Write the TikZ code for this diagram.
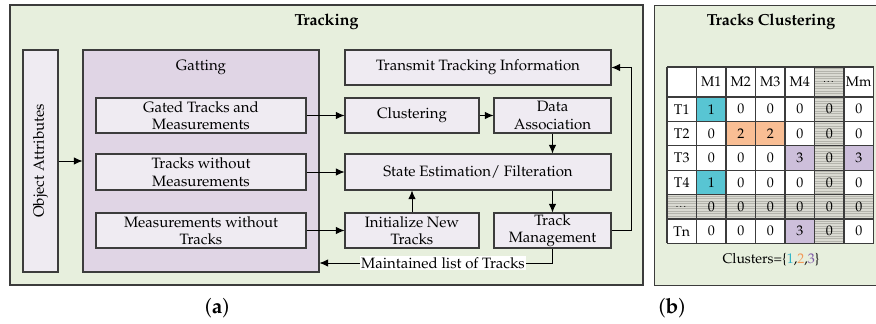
\documentclass[tikz,border=0pt]{standalone}
\usepackage[T1]{fontenc}
\usepackage{mathpazo}
\usetikzlibrary{arrows.meta,patterns}

\definecolor{panelbg}{HTML}{E7EFDD}
\definecolor{gatebg}{HTML}{E0D5E5}
\definecolor{boxbg}{HTML}{EFEBF2}
\definecolor{edge}{HTML}{3C3C3C}
\definecolor{cyanc}{HTML}{58C5D3}
\definecolor{orangec}{HTML}{F9BE94}
\definecolor{purplec}{HTML}{CDBFDB}
\definecolor{cyantxt}{HTML}{2FB3C6}
\definecolor{orangetxt}{HTML}{F29A5A}
\definecolor{purpletxt}{HTML}{7E58A8}
\definecolor{hatchbg}{HTML}{DADAD2}
\definecolor{hatchln}{HTML}{B4B4AC}

\tikzset{
  panel/.style={draw=edge, line width=1.2pt, fill=panelbg, inner sep=0pt},
  block/.style={draw=edge, line width=1.1pt, fill=boxbg, inner sep=1pt, align=center,
    font=\fontsize{15}{17.5}\selectfont},
  flow/.style={draw=black, line width=0.9pt, -{Latex[length=8.5pt,width=7.5pt]}},
  link/.style={draw=black, line width=0.9pt},
  cellt/.style={font=\fontsize{14}{16}\selectfont, inner sep=0pt},
  ttl/.style={font=\fontsize{16}{18}\selectfont\bfseries},
  captxt/.style={font=\fontsize{21}{24}\selectfont},
}
\newcommand{\elli}{{\fontsize{10}{12}\selectfont\dots}}

\begin{document}
\begin{tikzpicture}[x=1pt, y=-1pt]
\useasboundingbox (0,0) rectangle (876,324);

% ---------- left panel: tracking pipeline ----------
\node[panel, minimum width=633pt, minimum height=280pt] (trk) at (326.5,145) {};
\node[ttl] (trkttl) at (326.5,22) {Tracking};

\node[block, minimum width=35pt, minimum height=222pt] (obj) at (40.5,161) {};
\node[font=\fontsize{15}{17.5}\selectfont, rotate=90] (objtxt) at (obj.center)
  {Object Attributes};
\node[draw=edge, line width=1.1pt, fill=gatebg, minimum width=236pt, minimum height=222pt,
  inner sep=0pt] (gat) at (201,161) {};
\node[font=\fontsize{15}{17.5}\selectfont] (gatttl) at (201,67) {Gatting};

\node[block, minimum width=210pt, minimum height=35pt] (gated) at (201,115.5)
  {Gated Tracks and\\Measurements};
\node[block, minimum width=210pt, minimum height=36pt] (twm) at (201,172)
  {Tracks without\\Measurements};
\node[block, minimum width=210pt, minimum height=35pt] (mwt) at (201,230.5)
  {Measurements without\\Tracks};

\node[block, minimum width=266pt, minimum height=35pt] (tx) at (478,67.5)
  {Transmit Tracking Information};
\node[block, minimum width=134pt, minimum height=35pt] (clus) at (412,115.5)
  {Clustering};
\node[block, minimum width=117pt, minimum height=35pt] (da) at (552.5,115.5)
  {Data\\Association};
\node[block, minimum width=266pt, minimum height=36pt] (se) at (478,172)
  {State Estimation/ Filteration};
\node[block, minimum width=134pt, minimum height=35pt] (init) at (412,230.5)
  {Initialize New\\Tracks};
\node[block, minimum width=117pt, minimum height=35pt] (tm) at (552.5,230.5)
  {Track\\Management};

\node[fill=white, inner sep=1pt, font=\fontsize{15}{17.5}\selectfont] (maint) at (443,263)
  {Maintained list of Tracks};
\coordinate (fbk) at (631.5,0);

\draw[flow] (obj.east) -- (gat.west);
\draw[flow] (gated) -- (clus);
\draw[flow] (twm.east) -- (se.west |- twm.east);
\draw[flow] (mwt) -- (init);
\draw[flow] (clus) -- (da);
\draw[flow] (da) -- (da |- se.north);
\draw[flow] (se.south -| tm) -- (tm);
\draw[flow] (init) -- (init |- se.south);
\draw[flow] (tm.east) -- (fbk |- tm.east) -- (fbk |- tx.east) -- (tx.east);
\draw[link] (tm.south) -- (tm.south |- maint.east) -- (maint.east);
\draw[flow] (maint.west) -- (maint.west -| gat.east);

\node[captxt] (capa) at (217,308) {(\textbf{a})};

% ---------- right panel: cluster table ----------
\node[panel, minimum width=240pt, minimum height=280pt, anchor=north west] (tcl) at (654,5) {};
\node[ttl] (tclttl) at (771,22) {Tracks Clustering};

% table geometry
\def\cw{29.5}
\fill[white] (667,67) rectangle (873.5,243.4);
% hatched column and row
\fill[hatchbg] (814.5,67) rectangle (844,243.4);
\fill[hatchbg] (667,194.6) rectangle (873.5,219);
\foreach \yy in {68.5,71,...,243}
  \draw[hatchln, line width=0.8pt] (814.5,\yy) -- (844,\yy);
\foreach \yy in {196,198.5,...,218.5}
  \draw[hatchln, line width=0.8pt] (667,\yy) -- (873.5,\yy);
% cluster cells
\fill[cyanc] (696.5,97) rectangle (726,121.4);
\fill[cyanc] (696.5,170.2) rectangle (726,194.6);
\fill[orangec] (726,121.4) rectangle (785,145.8);
\fill[purplec] (785,145.8) rectangle (814.5,170.2);
\fill[purplec] (844,145.8) rectangle (873.5,170.2);
\fill[purplec] (785,219) rectangle (814.5,243.4);
% grid
\foreach \xx in {667,696.5,726,755.5,785,814.5,844,873.5}
  \draw[edge, line width=1.1pt] (\xx,67) -- (\xx,243.4);
\foreach \yy in {67,97,121.4,145.8,170.2,194.6,219,243.4}
  \draw[edge, line width=1.1pt] (667,\yy) -- (873.5,\yy);

% header row
\foreach \h [count=\ci] in {M1,M2,M3,M4,\elli,Mm}
  \node[cellt] (hd-\ci) at ({667+\cw*\ci+\cw/2},82) {\h};
% body rows
\foreach \lab/\vals [count=\ri] in {T1/{1,0,0,0,0,0}, T2/{0,2,2,0,0,0}, T3/{0,0,0,3,0,3},
    T4/{1,0,0,0,0,0}, \elli/{0,0,0,0,0,0}, Tn/{0,0,0,3,0,0}} {
  \node[cellt] (rl-\ri) at ({667+\cw/2},{97+24.4*(\ri-1)+12.2}) {\lab};
  \foreach \v [count=\ci] in \vals
    \node[cellt] (c-\ri-\ci) at ({667+\cw*\ci+\cw/2},{97+24.4*(\ri-1)+12.2}) {\v};
}

\node[cellt] (clusters) at (771,260)
  {Clusters=\{\textcolor{cyantxt}{1},\textcolor{orangetxt}{2},\textcolor{purpletxt}{3}\}};

\node[captxt] (capb) at (672,308) {(\textbf{b})};
\end{tikzpicture}
\end{document}
